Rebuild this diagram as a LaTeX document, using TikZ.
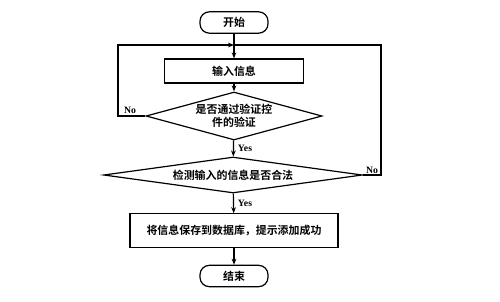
\documentclass[tikz,border=0pt]{standalone}
\usepackage{fontspec}
\newfontfamily\cjk{Noto Sans CJK SC}[BoldFont={Noto Sans CJK SC Bold}]
\newfontfamily\lat{Liberation Serif}
\usetikzlibrary{shapes.geometric,arrows.meta}
\begin{document}
\begin{tikzpicture}[x=0.75pt,y=-0.75pt,
  line width=0.9pt,
  every node/.style={font=\cjk\bfseries\fontsize{8.2pt}{9.8pt}\selectfont},
  term/.style={draw,rectangle,rounded corners=7pt,minimum width=51pt,minimum height=16pt,inner sep=0pt},
  proc/.style={draw,rectangle,inner sep=0pt},
  decide/.style={draw,diamond,inner sep=0pt,align=center},
  lbl/.style={font=\lat\bfseries\fontsize{7.3pt}{8pt}\selectfont,inner sep=0pt},
  arr/.style={-{Stealth[length=4.5pt,width=3.5pt]}}]
\useasboundingbox (0,0) rectangle (500,301);
\node[term] (start) at (234,22.5) {开始};
\node[proc,minimum width=104pt,minimum height=18pt] (input) at (234,71) {输入信息};
\node[decide,aspect=3.67,minimum width=132pt,minimum height=36pt] (d1) at (234,116) {是否通过验证控\\件的验证};
\node[decide,aspect=7.2,minimum width=194pt,minimum height=27pt] (d2) at (233,175) {检测输入的信息是否合法};
\node[proc,minimum width=156pt,minimum height=25pt] (save) at (234,230.5) {将信息保存到数据库，提示添加成功};
\node[term] (end) at (234,276) {结束};
\coordinate (j) at (234,45);
\coordinate (lc) at (118,116);
\coordinate (rc) at (381,175);
\draw[arr] (start) -- (input);
\draw[arr] (input) -- (d1);
\draw[arr] (d1) -- (d2);
\draw[arr] (d2) -- (save);
\draw[arr] (save) -- (end);
\draw[arr] (d1.west) -- (lc) |- (j);
\draw (d2.east) -- (rc) |- (j);
\node[lbl] (no1) at (130,110) {No};
\node[lbl] (yes1) at (245,148) {Yes};
\node[lbl] (no2) at (372,170) {No};
\node[lbl] (yes2) at (245,203) {Yes};
\end{tikzpicture}
\end{document}
